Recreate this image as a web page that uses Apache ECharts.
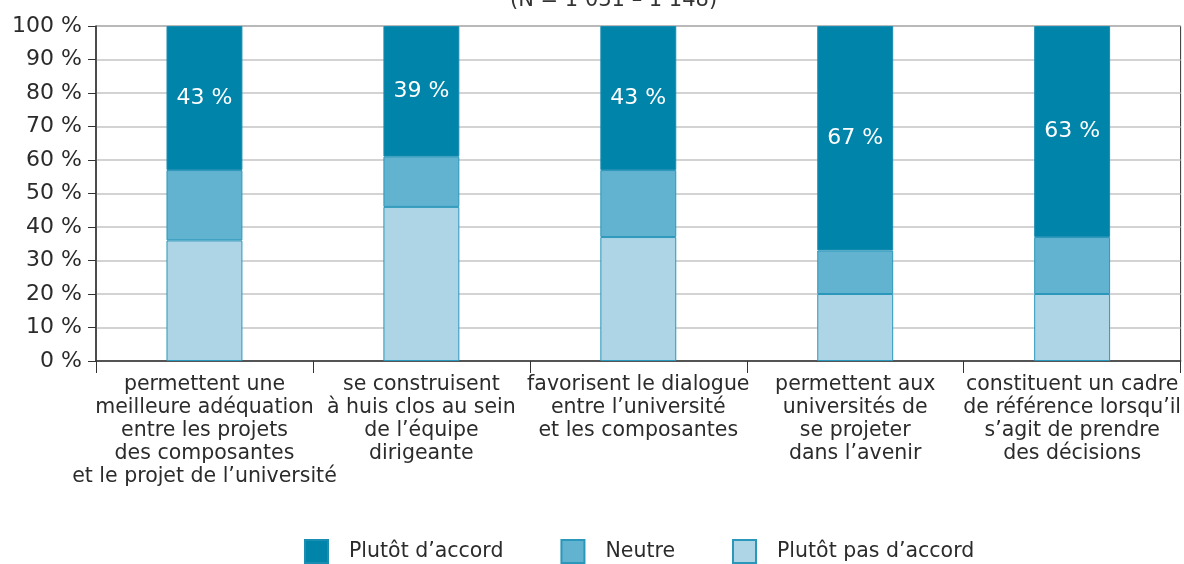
<!DOCTYPE html>
<html>
<head>
<meta charset="utf-8">
<script src="https://cdn.jsdelivr.net/npm/echarts@6/dist/echarts.min.js"></script>
<style>
  html, body { margin: 0; padding: 0; background: #fff; }
  #main { width: 1184px; height: 564px; }
</style>
</head>
<body>
<div id="main"></div>
<script>
// categories (axis labels)
var categories = [
    'permettent une\nmeilleure adéquation\nentre les projets\ndes composantes\net le projet de l\u2019université',
    'se construisent\nà huis clos au sein\nde l\u2019équipe\ndirigeante',
    'favorisent le dialogue\nentre l\u2019université\net les composantes',
    'permettent aux\nuniversités de\nse projeter\ndans l\u2019avenir',
    'constituent un cadre\nde référence lorsqu\u2019il\ns\u2019agit de prendre\ndes décisions'
];
// series values (%)
var pasAccord = [36, 46, 37, 20, 20];
var neutre = [21, 15, 20, 13, 17];
var accord = [43, 39, 43, 67, 63];

var yTicks = [0, 10, 20, 30, 40, 50, 60, 70, 80, 90, 100];

var font = 'DejaVu Sans';
var chart = echarts.init(document.getElementById('main'));

var option = {
    animation: false,
    textStyle: { fontFamily: font },
    title: {
        text: '(N = 1 031 \u2013 1 148)',
        left: 505,
        top: -15,
        textStyle: { fontFamily: font, fontSize: 21, fontWeight: 'normal', color: '#333' }
    },
    legend: {
        bottom: 0,
        left: 304,
        padding: 0,
        icon: 'rect',
        itemWidth: 23,
        itemHeight: 23,
        itemGap: 57,
        data: ['Plutôt d\u2019accord', 'Neutre', 'Plutôt pas d\u2019accord'],
        textStyle: { fontFamily: font, fontSize: 20.5, color: '#2b2b2b', padding: [0, 0, 0, 16] }
    },
    grid: {
        left: 96,
        right: 3,
        top: 26,
        bottom: 203,
        show: true,
        borderColor: '#333',
        borderWidth: 1
    },
    xAxis: {
        type: 'category',
        data: categories,
        axisLine: { lineStyle: { color: '#333', width: 1.5 } },
        axisTick: { show: true, length: 12, lineStyle: { color: '#333' } },
        axisLabel: {
            color: '#2b2b2b',
            fontSize: 20.5,
            lineHeight: 23,
            margin: 12,
            interval: 0
        }
    },
    yAxis: {
        type: 'value',
        min: 0,
        max: 100,
        interval: 10,
        axisLine: { show: true, lineStyle: { color: '#333', width: 1.5 } },
        axisTick: { show: true, length: 8, lineStyle: { color: '#333' } },
        splitLine: { lineStyle: { color: '#c4c4c4', width: 1.5 } },
        axisLabel: {
            color: '#2b2b2b',
            fontSize: 22,
            margin: 14,
            formatter: function (v) { return yTicks.indexOf(v) >= 0 ? v + ' %' : ''; }
        }
    },
    series: [
        {
            name: 'Plutôt pas d\u2019accord',
            type: 'bar',
            stack: 'total',
            barWidth: '35%',
            data: pasAccord,
            itemStyle: { color: '#aed5e6', borderColor: '#2a97bb', borderWidth: 1 }
        },
        {
            name: 'Neutre',
            type: 'bar',
            stack: 'total',
            data: neutre,
            itemStyle: { color: '#62b3d0', borderColor: '#2a97bb', borderWidth: 1 }
        },
        {
            name: 'Plutôt d\u2019accord',
            type: 'bar',
            stack: 'total',
            data: accord,
            itemStyle: { color: '#0084a9', borderColor: '#1a8db3', borderWidth: 1 },
            label: {
                show: true,
                position: 'inside',
                color: '#fff',
                fontSize: 22,
                fontFamily: font,
                formatter: '{c} %'
            }
        }
    ]
};

chart.setOption(option);
</script>
</body>
</html>
